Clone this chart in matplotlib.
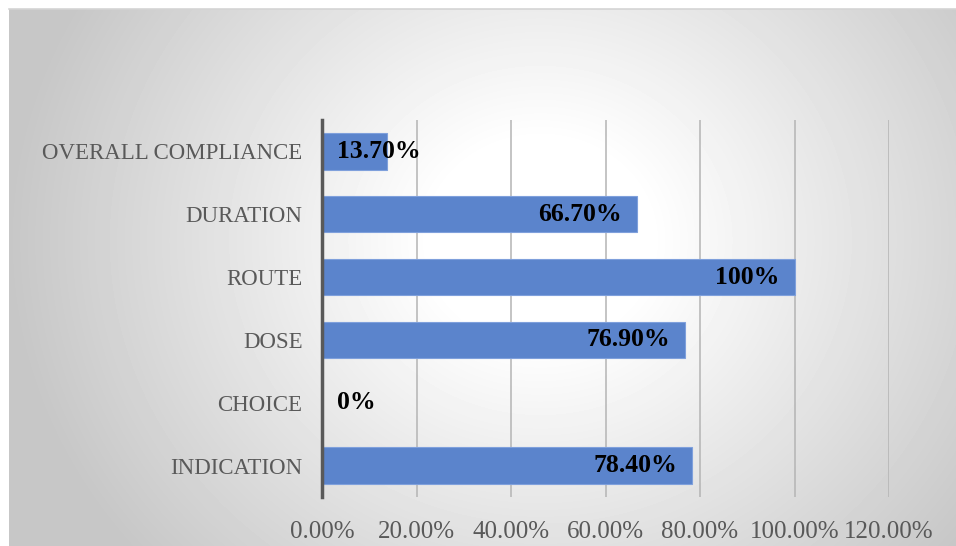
import matplotlib
matplotlib.use("Agg")
import matplotlib.pyplot as plt
from matplotlib.lines import Line2D
import numpy as np

categories = ["INDICATION", "CHOICE", "DOSE", "ROUTE", "DURATION", "OVERALL COMPLIANCE"]
values = [78.4, 0.0, 76.9, 100.0, 66.7, 13.7]
value_labels = ["78.40%", "0%", "76.90%", "100%", "66.70%", "13.70%"]
xticks = [0, 20, 40, 60, 80, 100, 120]
xtick_labels = ["0.00%", "20.00%", "40.00%", "60.00%", "80.00%", "100.00%", "120.00%"]

plt.rcParams["font.family"] = ["Liberation Serif", "DejaVu Serif"]

W, H = 956, 546
fig = plt.figure(figsize=(W / 100, H / 100), dpi=100)
fig.patch.set_facecolor("white")

# radial grey background of the chart area
bg = fig.add_axes([9 / W, 0, 1 - 9 / W, 1 - 9 / H])
yy, xx = np.mgrid[9:H, 9:W]
d = np.hypot(xx - 540, (yy - 240) * 1.1)
t = np.clip((d - 110) / 420, 0, 1)
shade = 1 - 0.22 * t
bg.imshow(shade, cmap="gray", vmin=0, vmax=1, aspect="auto", interpolation="bilinear")
bg.set_axis_off()
fig.add_artist(Line2D([9 / W, 1], [1 - 9 / H, 1 - 9 / H], color="#d4d4d4", lw=1.2))

ax = fig.add_axes([322 / W, 1 - 497 / H, (889 - 322) / W, (497 - 120) / H])
ax.patch.set_alpha(0)
y = np.arange(len(categories))
ax.barh(y, values, height=0.58, color="#5b84cc", edgecolor="#7fa0dc", linewidth=0.8, zorder=3)

for yi, v, lab in zip(y, values, value_labels):
    if v > 30:
        ax.text(v - 3.3, yi, lab, ha="right", va="center", fontsize=18.5,
                fontweight="bold", color="black", zorder=4)
    else:
        ax.text(3.2, yi, lab, ha="left", va="center", fontsize=18.5,
                fontweight="bold", color="black", zorder=4)

ax.set_xlim(0, 120)
ax.set_ylim(-0.5, len(categories) - 0.5)
ax.set_xticks(xticks)
ax.set_xticklabels(xtick_labels)
ax.set_yticks(y)
ax.set_yticklabels(categories)
ax.tick_params(axis="both", length=0, labelcolor="#595959")
ax.tick_params(axis="x", pad=17, labelsize=18)
ax.tick_params(axis="y", pad=14, labelsize=16.5)
ax.grid(axis="x", color="#b4b4b4", linewidth=1.1, zorder=1)
for s in ["top", "right", "bottom"]:
    ax.spines[s].set_visible(False)
ax.spines["left"].set_color("#595959")
ax.spines["left"].set_linewidth(2.5)
ax.spines["left"].set_zorder(5)

fig.savefig("out.png", dpi=100)
